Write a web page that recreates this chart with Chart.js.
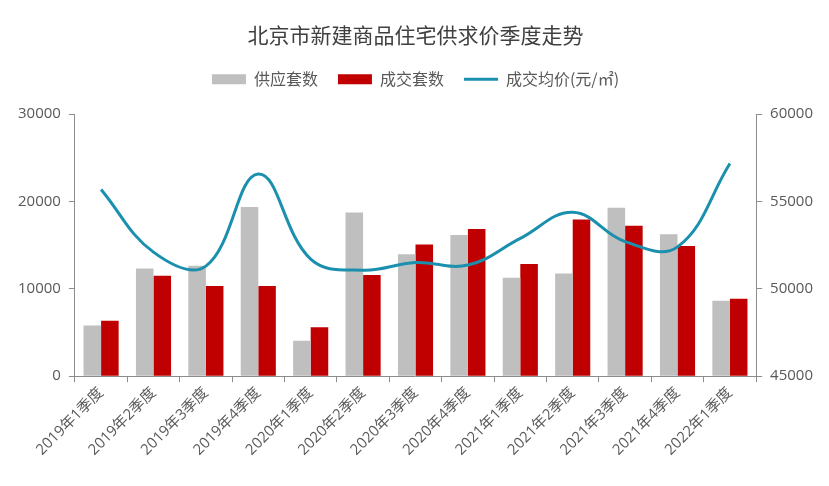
<!DOCTYPE html>
<html>
<head>
<meta charset="utf-8">
<script src="https://cdn.jsdelivr.net/npm/chart.js@4"></script>
<style>
    html, body { margin: 0; padding: 0; background: #fff; }
    #wrap { width: 829px; height: 486px; }
</style>
</head>
<body>
<div id="wrap"><canvas id="chart"></canvas></div>
<script>
// Quarter labels
const quarters = [
    "2019年1季度", "2019年2季度", "2019年3季度", "2019年4季度",
    "2020年1季度", "2020年2季度", "2020年3季度", "2020年4季度",
    "2021年1季度", "2021年2季度", "2021年3季度", "2021年4季度",
    "2022年1季度"
];

// Supply units, deal units (left axis)
const supplyUnits = [5800, 12330, 12630, 19360, 4050, 18750, 13970, 16150, 11260, 11760, 19280, 16260, 8630];
const dealUnits = [6330, 11490, 10310, 10310, 5610, 11570, 15080, 16840, 12830, 17950, 17220, 14890, 8860];

// Average deal price, yuan/m2 (right axis)
const avgPrice = [55690, 52100, 51300, 56570, 51700, 51070, 51510, 51360, 52890, 54380, 52700, 52400, 57180];

const cjkFont = "'Noto Sans CJK SC', sans-serif";
const numFont = "'Open Sans', 'Noto Sans CJK SC', sans-serif";
const axisColor = "#8c8c8c";
const textColor = "#595959";

// add some room under the legend
const legendGap = {
    id: "legendGap",
    beforeInit(chart) {
        const fit = chart.legend.fit;
        chart.legend.fit = function () {
            fit.bind(chart.legend)();
            this.height += 17;
        };
    }
};

new Chart(document.getElementById("chart"), {
    data: {
        labels: quarters,
        datasets: [
            {
                type: "bar",
                label: "供应套数",
                data: supplyUnits,
                yAxisID: "y",
                backgroundColor: "#BFBFBF",
                pointStyle: "rect",
                categoryPercentage: 0.67,
                barPercentage: 1.0,
                order: 1
            },
            {
                type: "bar",
                label: "成交套数",
                data: dealUnits,
                yAxisID: "y",
                backgroundColor: "#C00000",
                pointStyle: "rect",
                categoryPercentage: 0.67,
                barPercentage: 1.0,
                order: 1
            },
            {
                type: "line",
                label: "成交均价(元/㎡)",
                data: avgPrice,
                yAxisID: "y1",
                borderColor: "#1B90AE",
                backgroundColor: "#1B90AE",
                borderWidth: 3,
                pointRadius: 0,
                pointStyle: "line",
                tension: 0.4,
                order: 0
            }
        ]
    },
    options: {
        responsive: true,
        maintainAspectRatio: false,
        animation: false,
        layout: {
            padding: { left: 10, right: 8, top: 14, bottom: 25 }
        },
        scales: {
            x: {
                grid: {
                    display: true,
                    drawOnChartArea: false,
                    drawTicks: true,
                    tickLength: 6,
                    color: axisColor
                },
                border: { display: true, color: axisColor },
                ticks: {
                    color: textColor,
                    font: { family: numFont, size: 15 },
                    maxRotation: 45,
                    minRotation: 45,
                    padding: 2
                }
            },
            y: {
                position: "left",
                min: 0,
                max: 30000,
                grid: {
                    display: true,
                    drawOnChartArea: false,
                    drawTicks: true,
                    tickLength: 6,
                    color: axisColor
                },
                border: { display: true, color: axisColor },
                ticks: {
                    stepSize: 10000,
                    color: textColor,
                    font: { family: numFont, size: 15 },
                    padding: 8,
                    callback: v => String(v)
                }
            },
            y1: {
                position: "right",
                min: 45000,
                max: 60000,
                grid: {
                    display: true,
                    drawOnChartArea: false,
                    drawTicks: true,
                    tickLength: 6,
                    color: axisColor
                },
                border: { display: true, color: axisColor },
                ticks: {
                    stepSize: 5000,
                    color: textColor,
                    font: { family: numFont, size: 15 },
                    padding: 8,
                    callback: v => String(v)
                }
            }
        },
        plugins: {
            title: {
                display: true,
                text: "北京市新建商品住宅供求价季度走势",
                color: "#404040",
                font: { family: cjkFont, size: 21, weight: "normal" },
                padding: { top: 8, bottom: 4 }
            },
            legend: {
                position: "top",
                labels: {
                    usePointStyle: true,
                    pointStyleWidth: 34,
                    boxHeight: 10,
                    padding: 20,
                    color: textColor,
                    font: { family: cjkFont, size: 16 },
                    sort: (a, b) => a.datasetIndex - b.datasetIndex
                }
            },
            tooltip: { enabled: false }
        }
    },
    plugins: [legendGap]
});
</script>
</body>
</html>
